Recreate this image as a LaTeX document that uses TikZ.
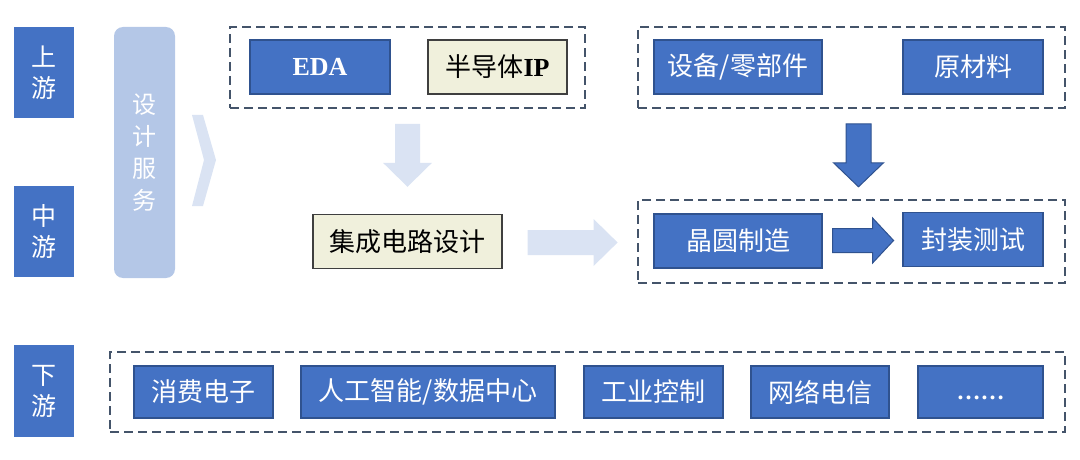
\documentclass[tikz,border=0pt]{standalone}
\usepackage{fontspec}
\usepackage{xcolor}
\usepackage{tikz}
\usetikzlibrary{calc}

\setmainfont{Liberation Serif}
\newfontfamily\cjk{Noto Sans CJK SC}

\definecolor{chainblue}{HTML}{4472C4}
\definecolor{chainborder}{HTML}{2F528F}
\definecolor{cream}{HTML}{F0F0DC}
\definecolor{creamborder}{HTML}{3F3F3F}
\definecolor{servicefill}{HTML}{B4C7E7}
\definecolor{palefill}{HTML}{DAE3F3}
\definecolor{groupline}{HTML}{44546A}

\tikzset{
	stage/.style = {fill = chainblue, text = white, inner sep = 0pt, align = center, minimum width = 60pt, font = \cjk\fontsize{25}{31}\selectfont},
	bluebox/.style = {draw = chainborder, line width = 1.2pt, fill = chainblue, text = white, inner sep = 0pt, minimum height = 54pt, font = \cjk\fontsize{26}{30}\selectfont},
	creambox/.style = {draw = creamborder, line width = 1.2pt, fill = cream, text = black, inner sep = 0pt, minimum height = 54pt, font = \cjk\fontsize{26}{30}\selectfont},
	group/.style = {draw = groupline, line width = 1.6pt, dash pattern = on 9pt off 5pt, inner sep = 0pt},
	palearrow/.style = {fill = palefill},
	bluearrow/.style = {fill = chainblue, draw = chainborder, line width = 1pt, line join = miter}
}

\begin{document}
\begin{tikzpicture}[x = 1pt, y = -1pt]
		\useasboundingbox (0,0) rectangle (1080,460);
		
		% stage labels
		\begin{scope}
		\node [stage, minimum height = 91pt] (upstream) at (44,72.5) {上\\游};
		\node [stage, minimum height = 91pt] (midstream) at (44,231.5) {中\\游};
		\node [stage, minimum height = 92pt] (downstream) at (44,391) {下\\游};
		\end{scope}
		
		% design service
		\begin{scope}
		\node [fill = servicefill, rounded corners = 9pt, minimum width = 61pt, minimum height = 251pt, inner sep = 0pt, align = center, text = white, font = \cjk\fontsize{24}{32}\selectfont] (service) at (144.5,152.5) {设\\计\\服\\务};
		\fill [palefill] (192,115) -- (203,115) -- (216,160) -- (203,206) -- (192,206) -- (204,160) -- cycle;
		\end{scope}
		
		% upstream
		\begin{scope}
		\node [group, minimum width = 355pt, minimum height = 81pt] (toolgroup) at (407.5,67.5) {};
		\node [bluebox, minimum width = 140pt, font = \rmfamily\bfseries\fontsize{26}{30}\selectfont] (eda) at (320,67) {EDA};
		\node [creambox, minimum width = 139pt] (ip) at (497.5,67) {半导体{\rmfamily\bfseries IP}};
		
		\node [group, minimum width = 427pt, minimum height = 81pt] (supplygroup) at (851.5,67.5) {};
		\node [bluebox, minimum width = 168pt] (equipment) at (738,67) {设备/零部件};
		\node [bluebox, minimum width = 140pt] (material) at (973,67) {原材料};
		\end{scope}
		
		% midstream
		\begin{scope}
		\node [creambox, minimum width = 189pt] (icdesign) at (407.5,241.5) {集成电路设计};
		
		\node [group, minimum width = 427pt, minimum height = 83pt] (fabgroup) at (851.5,241.5) {};
		\node [bluebox, minimum width = 168pt] (wafer) at (738,241) {晶圆制造};
		\node [bluebox, minimum width = 140pt] (packaging) at (973,239.5) {封装测试};
		\end{scope}
		
		% block arrows
		\begin{scope}
		\coordinate (toolarrow) at ($(toolgroup.south)+(0,15)$);
		\fill [palearrow] (toolarrow) ++(-12.5,0) -- ++(25,0) -- ++(0,39) -- ++(12,0) -- ++(-24.5,24) -- ++(-24.5,-24) -- ++(12,0) -- cycle;
		
		\coordinate (designarrow) at ($(icdesign.east)+(25,1)$);
		\fill [palearrow] (designarrow) ++(0,-12.5) -- ++(66,0) -- ++(0,-11) -- ++(24,23.5) -- ++(-24,23.5) -- ++(0,-11) -- ++(-66,0) -- cycle;
		
		\coordinate (supplyarrow) at ($(supplygroup.south)+(7,15)$);
		\draw [bluearrow] (supplyarrow) ++(-12.5,0) -- ++(25,0) -- ++(0,39) -- ++(12.5,0) -- ++(-25,24) -- ++(-25,-24) -- ++(12.5,0) -- cycle;
		
		\coordinate (fabarrow) at ($(wafer.east)+(10,-0.5)$);
		\draw [bluearrow] (fabarrow) ++(0,-12) -- ++(40,0) -- ++(0,-10.5) -- ++(21,22.5) -- ++(-21,22.5) -- ++(0,-10.5) -- ++(-40,0) -- cycle;
		\end{scope}
		
		% downstream
		\begin{scope}
		\node [group, minimum width = 955pt, minimum height = 80pt] (appgroup) at (587.5,392) {};
		\node [bluebox, minimum width = 139pt, minimum height = 52pt] (consumer) at (203.5,392) {消费电子};
		\node [bluebox, minimum width = 254pt, minimum height = 52pt] (aidata) at (428,392) {人工智能/数据中心};
		\node [bluebox, minimum width = 139pt, minimum height = 52pt] (industry) at (653.5,392) {工业控制};
		\node [bluebox, minimum width = 138pt, minimum height = 52pt] (telecom) at (820,392) {网络电信};
		\node [bluebox, minimum width = 125pt, minimum height = 52pt, font = \rmfamily\bfseries\fontsize{24}{30}\selectfont] (others) at (980.5,392) {\vphantom{EDA}……};
		\end{scope}
	\end{tikzpicture}
\end{document}
